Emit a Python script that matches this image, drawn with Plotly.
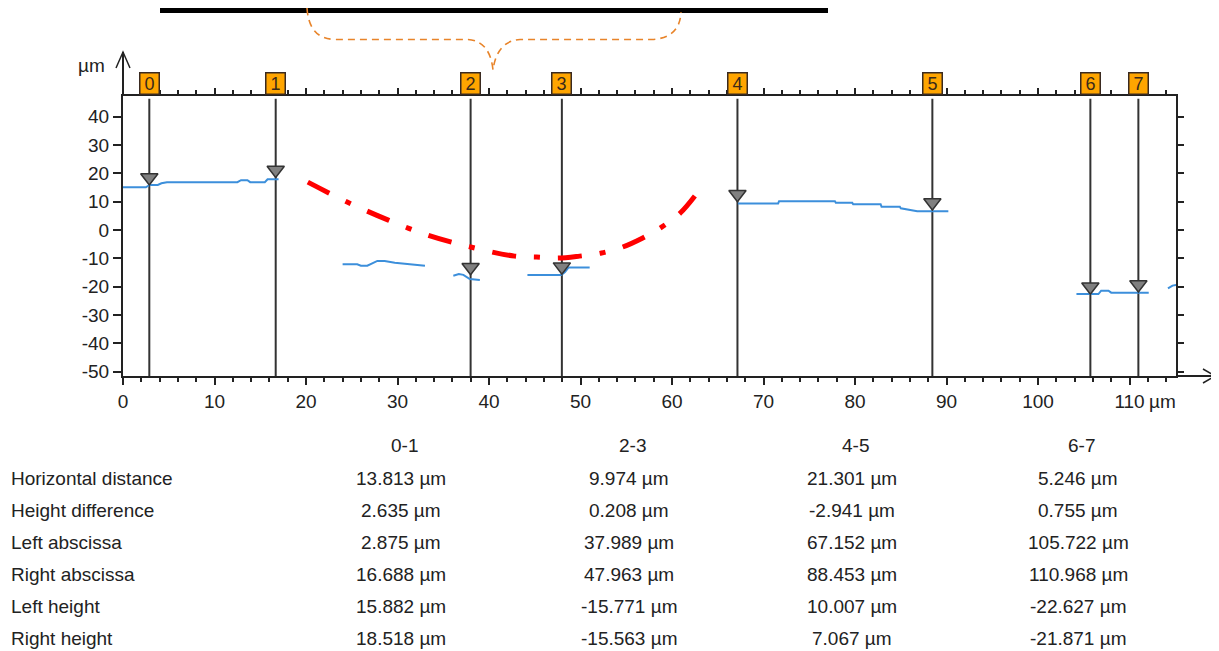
import plotly.graph_objects as go

# ---------------- data ----------------
marker_ids = ["0", "1", "2", "3", "4", "5", "6", "7"]
marker_x = [2.875, 16.688, 37.989, 47.963, 67.152, 88.453, 105.722, 110.968]
marker_h = [15.882, 18.518, -15.771, -15.563, 10.007, 7.067, -22.627, -21.871]

seg1_x = [0, 2.5, 2.9, 3.8, 4.2, 4.8, 12.5, 12.9, 13.6, 13.9, 15.5, 15.8, 17.0]
seg1_y = [15.1, 15.1, 15.9, 15.9, 16.5, 16.9, 16.9, 17.6, 17.6, 16.9, 16.9, 17.9, 17.9]
seg2_x = [24.0, 25.6, 26.0, 26.7, 27.8, 28.6, 29.7, 31.6, 33.0]
seg2_y = [-12.1, -12.1, -12.6, -12.6, -10.9, -10.9, -11.5, -12.0, -12.6]
seg3_x = [36.1, 36.7, 37.2, 37.9, 39.0]
seg3_y = [-16.1, -15.5, -15.8, -17.3, -17.6]
seg4_x = [44.2, 47.9, 48.3, 48.7, 51.0]
seg4_y = [-15.9, -15.9, -14.8, -13.2, -13.2]
seg5_x = [67.2, 71.6, 71.7, 77.8, 77.9, 79.7, 79.8, 82.8, 82.9, 84.9, 85.0, 85.8, 86.8, 90.2]
seg5_y = [9.4, 9.4, 10.2, 10.2, 9.6, 9.6, 9.1, 9.1, 8.2, 8.2, 7.7, 7.1, 6.6, 6.6]
seg6_x = [104.2, 106.6, 106.9, 107.7, 108.0, 112.1]
seg6_y = [-22.6, -22.6, -21.4, -21.4, -22.1, -22.1]
seg7_x = [114.2, 114.7, 115.1]
seg7_y = [-20.6, -19.6, -19.4]

curve_x = [20.2, 24.5, 29.0, 33.3, 38.0, 42.8, 45.2, 47.5, 49.9, 52.3, 54.6, 56.8, 58.9, 60.9, 62.5]
curve_y = [16.9, 9.9, 3.5, -1.8, -6.0, -9.2, -9.5, -9.9, -9.2, -8.1, -6.0, -2.8, 1.1, 6.0, 12.0]

x_ticks = [0, 10, 20, 30, 40, 50, 60, 70, 80, 90, 100, 110]
y_ticks = [-50, -40, -30, -20, -10, 0, 10, 20, 30, 40]

table_cols = ["0-1", "2-3", "4-5", "6-7"]
row_labels = ["Horizontal distance", "Height difference", "Left abscissa",
              "Right abscissa", "Left height", "Right height"]
horiz_dist = [13.813, 9.974, 21.301, 5.246]
height_diff = [2.635, 0.208, -2.941, 0.755]
left_absc = [2.875, 37.989, 67.152, 105.722]
right_absc = [16.688, 47.963, 88.453, 110.968]
left_height = [15.882, -15.771, 10.007, -22.627]
right_height = [18.518, -15.563, 7.067, -21.871]

# ---------------- layout geometry (screen pixels) ----------------
OFF = 8                      # default page body margin
WIN_W, WIN_H = 1219, 651
W, H = WIN_W - OFF, WIN_H - OFF
PL, PR, PT, PB = 123, 1176, 96, 376   # plot area on screen
X_RANGE = [0, 115.08]
Y_RANGE = [-51.5, 47.3]
FONT = "Liberation Sans, Arial, sans-serif"
TXT = "#222222"
FS = 19


def pxx(x):
    return (x - PL) / (PR - PL)


def pxy(y):
    return (PB - y) / (PB - PT)


px_per_unit_y = (PB - PT) / (Y_RANGE[1] - Y_RANGE[0])
tri_size = 15
tri_offset = (tri_size / 2) / px_per_unit_y

fig = go.Figure()

segs = [(seg1_x, seg1_y), (seg2_x, seg2_y), (seg3_x, seg3_y), (seg4_x, seg4_y),
        (seg5_x, seg5_y), (seg6_x, seg6_y), (seg7_x, seg7_y)]
px_all, py_all = [], []
for sx, sy in segs:
    px_all += list(sx) + [None]
    py_all += list(sy) + [None]
fig.add_trace(go.Scatter(x=px_all, y=py_all, mode="lines",
                         line=dict(color="#3C8FDB", width=2), hoverinfo="skip",
                         showlegend=False))

fig.add_trace(go.Scatter(x=curve_x, y=curve_y, mode="lines",
                         line=dict(color="#FF0000", width=5, shape="spline",
                                   dash="24px,18px,6px,18px"),
                         hoverinfo="skip", showlegend=False))

fig.add_trace(go.Scatter(x=marker_x, y=[h + tri_offset for h in marker_h], mode="markers",
                         marker=dict(symbol="triangle-down", size=tri_size, color="#808080",
                                     line=dict(color="#333333", width=1.5)),
                         hoverinfo="skip", showlegend=False))

fig.add_trace(go.Scatter(x=[None], y=[None], xaxis="x2", yaxis="y2", showlegend=False))

shapes = []
for mx in marker_x:
    shapes.append(dict(type="line", xref="x", yref="paper", x0=mx, x1=mx, y0=0, y1=0.99,
                       line=dict(color="#333333", width=2), layer="below"))

# axis arrows
shapes.append(dict(type="line", xref="paper", yref="paper", x0=pxx(123), x1=pxx(123),
                   y0=pxy(96), y1=pxy(52), line=dict(color=TXT, width=2)))
shapes.append(dict(type="path", xref="paper", yref="paper",
                   path=f"M{pxx(116)},{pxy(68)} L{pxx(123)},{pxy(52)} L{pxx(130)},{pxy(68)}",
                   line=dict(color=TXT, width=1.5)))
shapes.append(dict(type="line", xref="paper", yref="paper", x0=pxx(1176), x1=pxx(1215),
                   y0=pxy(376), y1=pxy(376), line=dict(color=TXT, width=2)))
shapes.append(dict(type="path", xref="paper", yref="paper",
                   path=f"M{pxx(1203)},{pxy(369)} L{pxx(1215)},{pxy(376)} L{pxx(1203)},{pxy(383)}",
                   line=dict(color=TXT, width=1.5)))

# top black bar (as high as the page allows)
shapes.append(dict(type="rect", xref="paper", yref="paper", x0=pxx(160), x1=pxx(828),
                   y0=pxy(13), y1=pxy(7), fillcolor="black", line=dict(width=0)))

# orange dashed brace
brace = (f"M{pxx(307)},{pxy(8)} Q{pxx(309)},{pxy(39.5)} {pxx(336)},{pxy(39.5)} "
         f"L{pxx(468)},{pxy(39.5)} Q{pxx(490)},{pxy(41)} {pxx(493)},{pxy(70)} "
         f"Q{pxx(497)},{pxy(41)} {pxx(520)},{pxy(39.5)} L{pxx(652)},{pxy(39.5)} "
         f"Q{pxx(680)},{pxy(38)} {pxx(681)},{pxy(12)}")
shapes.append(dict(type="path", xref="paper", yref="paper", path=brace,
                   line=dict(color="#E8842A", width=1.6, dash="7px,5px")))

annotations = []
for mid, mx in zip(marker_ids, marker_x):
    annotations.append(dict(x=mx, xref="x", y=1, yref="paper", yanchor="bottom",
                            xanchor="center",
                            text=mid, showarrow=False, bgcolor="#FFA500",
                            bordercolor="#3A2A20", borderwidth=1.5, borderpad=0,
                            width=18, height=20, yshift=1,
                            font=dict(family=FONT, size=18, color="#3A2A1A")))


def text_ann(x, y, text, xanchor="center"):
    return dict(x=pxx(x), y=pxy(y), xref="paper", yref="paper", text=text,
                showarrow=False, xanchor=xanchor, yanchor="middle",
                font=dict(family=FONT, size=FS, color=TXT))


annotations.append(text_ann(91, 66, "µm"))
annotations.append(text_ann(1147, 401, "µm", xanchor="left"))

col_cx = [401, 629, 852, 1078]
row_y = [478, 510, 542, 574, 606, 638]
for c, cx in zip(table_cols, col_cx):
    annotations.append(text_ann(cx + 3, 445, c))
table_vals = [horiz_dist, height_diff, left_absc, right_absc, left_height, right_height]
for lab, ry, vals in zip(row_labels, row_y, table_vals):
    annotations.append(text_ann(9, ry, lab, xanchor="left"))
    for cx, v in zip(col_cx, vals):
        annotations.append(text_ann(cx, ry, f"{v:.3f} µm"))

fig.update_layout(
    width=W, height=H,
    margin=dict(l=PL - OFF, r=WIN_W - PR, t=PT - OFF, b=WIN_H - PB, pad=0),
    paper_bgcolor="white", plot_bgcolor="white",
    showlegend=False,
    font=dict(family=FONT, size=FS, color=TXT),
    xaxis=dict(range=X_RANGE, tickvals=x_ticks, ticktext=[str(v) for v in x_ticks],
               showgrid=False, zeroline=False, showline=True, linecolor=TXT, linewidth=2,
               ticks="outside", ticklen=7, tickwidth=2, tickcolor=TXT,
               minor=dict(dtick=2, tick0=0, ticks="outside", ticklen=4, tickwidth=1.5,
                          tickcolor=TXT, showgrid=False),
               tickfont=dict(family=FONT, size=FS, color=TXT), fixedrange=True),
    xaxis2=dict(range=X_RANGE, overlaying="x", side="top", showticklabels=False,
                tickvals=x_ticks, showgrid=False, zeroline=False, showline=True,
                linecolor=TXT, linewidth=2, ticks="outside", ticklen=6, tickwidth=1.5,
                tickcolor=TXT,
                minor=dict(dtick=2, tick0=0, ticks="outside", ticklen=4, tickwidth=1.5,
                           tickcolor=TXT, showgrid=False)),
    yaxis=dict(range=Y_RANGE, tickvals=y_ticks, ticktext=[str(v) for v in y_ticks],
               showgrid=False, zeroline=False,
               showline=True, linecolor=TXT, linewidth=2, ticks="outside", ticklen=8,
               tickwidth=2, tickcolor=TXT,
               tickfont=dict(family=FONT, size=FS, color=TXT)),
    yaxis2=dict(range=Y_RANGE, overlaying="y", side="right", showticklabels=False,
                tickvals=y_ticks, showgrid=False, zeroline=False, showline=True,
                linecolor=TXT, linewidth=2, ticks="outside", ticklen=6, tickwidth=1.5,
                tickcolor=TXT),
    shapes=shapes,
    annotations=annotations,
)

fig.write_html("out.html")
